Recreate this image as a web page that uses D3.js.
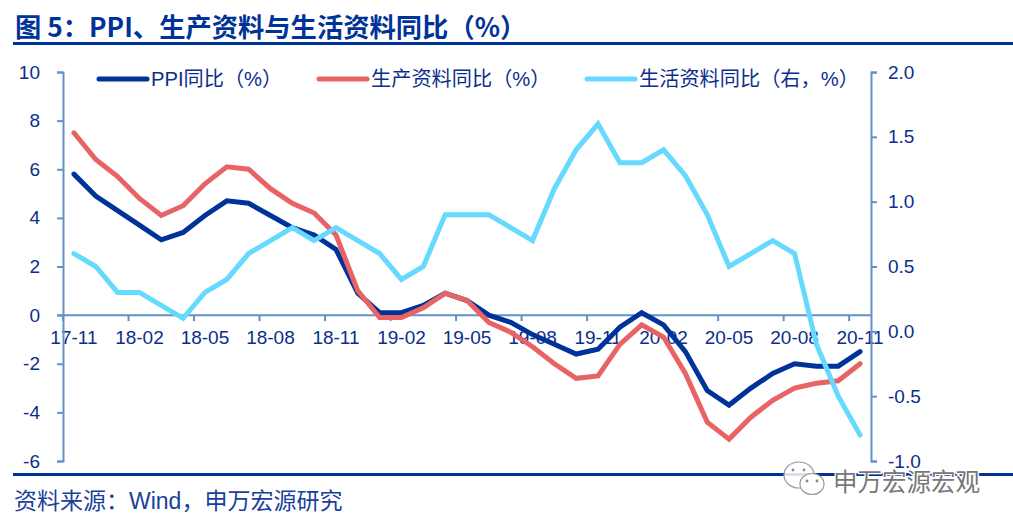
<!DOCTYPE html>
<html>
<head>
<meta charset="utf-8">
<script src="https://cdn.jsdelivr.net/npm/d3@7"></script>
<style>
	html, body { margin: 0; padding: 0; background: #fff; }
	svg { display: block; }
	text { font-family: "Liberation Sans", "Noto Sans CJK SC", sans-serif; }
</style>
</head>
<body>
<div id="chart"></div>
<script>
var months = [ "17-11", "17-12", "18-01", "18-02", "18-03", "18-04", "18-05", "18-06", "18-07", "18-08",
		"18-09", "18-10", "18-11", "18-12", "19-01", "19-02", "19-03", "19-04", "19-05", "19-06", "19-07",
		"19-08", "19-09", "19-10", "19-11", "19-12", "20-01", "20-02", "20-03", "20-04", "20-05", "20-06",
		"20-07", "20-08", "20-09", "20-10", "20-11" ];
var ppi = [ 5.8, 4.9, 4.3, 3.7, 3.1, 3.4, 4.1, 4.7, 4.6, 4.1, 3.6, 3.3, 2.7, 0.9, 0.1, 0.1, 0.4, 0.9, 0.6,
		0.0, -0.3, -0.8, -1.2, -1.6, -1.4, -0.5, 0.1, -0.4, -1.5, -3.1, -3.7, -3.0, -2.4, -2.0, -2.1, -2.1, -1.5 ];
var production = [ 7.5, 6.4, 5.7, 4.8, 4.1, 4.5, 5.4, 6.1, 6.0, 5.2, 4.6, 4.2, 3.3, 1.0, -0.1, -0.1, 0.3, 0.9,
		0.6, -0.3, -0.7, -1.3, -2.0, -2.6, -2.5, -1.2, -0.4, -0.9, -2.4, -4.4, -5.1, -4.2, -3.5, -3.0, -2.8, -2.7, -2.0 ];
var living = [ 0.6, 0.5, 0.3, 0.3, 0.2, 0.1, 0.3, 0.4, 0.6, 0.7, 0.8, 0.7, 0.8, 0.7, 0.6, 0.4, 0.5, 0.9, 0.9,
		0.9, 0.8, 0.7, 1.1, 1.4, 1.6, 1.3, 1.3, 1.4, 1.2, 0.9, 0.5, 0.6, 0.7, 0.6, -0.1, -0.5, -0.8 ];
var xTickLabels = months.filter(function(d, i) { return i % 3 == 0; });
var leftTicks = [ -6, -4, -2, 0, 2, 4, 6, 8, 10 ];
var rightTicks = [ -1, -0.5, 0, 0.5, 1, 1.5, 2 ];
var seriesNames = [ "PPI同比（%）", "生产资料同比（%）", "生活资料同比（右，%）" ];

var navy = "#003399", red = "#e86464", sky = "#66d9ff", axisColor = "#6490c8", textColor = "#0b2e8c";

var svg = d3.select("#chart").append("svg").attr("width", 1013).attr("height", 525);

var x = d3.scaleBand().domain(months).range([ 63, 871 ]);
var yLeft = d3.scaleLinear().domain([ -6, 10 ]).range([ 461, 72 ]);
var yRight = d3.scaleLinear().domain([ -1, 2 ]).range([ 461, 72 ]);

// title, rules, source
svg.append("text").attr("x", 15).attr("y", 37).attr("font-size", 26.3).attr("font-weight", 700)//
.attr("fill", navy).style("font-family", '"Noto Sans CJK SC", sans-serif')//
.text("图 5：PPI、生产资料与生活资料同比（%）");
svg.append("rect").attr("x", 13).attr("y", 42).attr("width", 1000).attr("height", 3).attr("fill", navy);
svg.append("rect").attr("x", 13).attr("y", 473).attr("width", 1000).attr("height", 3).attr("fill", navy);
svg.append("text").attr("x", 14).attr("y", 509).attr("font-size", 23).attr("fill", "#1a3f9c")//
.text("资料来源：Wind，申万宏源研究");

var styleAxis = function(g) {
	g.selectAll(".domain, .tick line").attr("stroke", axisColor).attr("stroke-width", 2);
	g.selectAll("text").attr("fill", textColor).attr("font-size", 19)//
	.style("font-family", '"Liberation Sans", sans-serif');
};

// category axis crosses at zero on the left scale
var xAxis = svg.append("g").attr("transform", "translate(0," + yLeft(0) + ")")//
.call(d3.axisBottom(x).tickValues(xTickLabels).tickSize(0).tickPadding(15))//
.call(styleAxis);
xAxis.select(".domain").attr("d", "M" + (x.range()[0] - 6) + ",0H" + x.range()[1]);
xAxis.selectAll(".edgeTick").data(xTickLabels).enter().append("line").attr("class", "edgeTick")//
.attr("x1", function(d) { return x(d); })//
.attr("x2", function(d) { return x(d); })//
.attr("y2", 6).attr("stroke", axisColor).attr("stroke-width", 2);

// plain hyphen on negative labels, as in the source
svg.append("g").attr("transform", "translate(" + x.range()[0] + ",0)")//
.call(d3.axisLeft(yLeft).tickValues(leftTicks).tickSize(6).tickPadding(17).tickFormat(function(d) {
	return String(d);
}))//
.call(styleAxis);

svg.append("g").attr("transform", "translate(" + x.range()[1] + ",0)")//
.call(d3.axisRight(yRight).tickValues(rightTicks).tickSize(6).tickPadding(11).tickFormat(function(d) {
	return d.toFixed(1);
}))//
.call(styleAxis);

var lineFor = function(y) {
	return d3.line().x(function(d, i) { return x(months[i]) + x.bandwidth() / 2; })//
	.y(function(d) { return y(d); });
};

var series = [ { values: ppi, y: yLeft, color: navy }, { values: production, y: yLeft, color: red },
		{ values: living, y: yRight, color: sky } ];

svg.selectAll(".series").data(series).enter().append("path").attr("class", "series")//
.attr("d", function(d) { return lineFor(d.y)(d.values); })//
.attr("fill", "none").attr("stroke", function(d) { return d.color; })//
.attr("stroke-width", 5).attr("stroke-linejoin", "miter").attr("stroke-linecap", "round");

// legend
var legendX = [ 99, 319, 587 ];
var legend = svg.selectAll(".legend").data(series).enter().append("g").attr("class", "legend")//
.attr("transform", function(d, i) { return "translate(" + legendX[i] + ",79)"; });
legend.append("line").attr("x2", 48).attr("stroke", function(d) { return d.color; })//
.attr("stroke-width", 5).attr("stroke-linecap", "round");
legend.append("text").attr("x", 52).attr("y", 7).attr("font-size", 20.2).attr("fill", textColor)//
.text(function(d, i) { return seriesNames[i]; });

// watermark
var mark = svg.append("g").attr("fill", "#fff").attr("stroke", "#999").attr("stroke-width", 1.2);
mark.append("ellipse").attr("cx", 799).attr("cy", 475).attr("rx", 15).attr("ry", 13).attr("fill-opacity", 0.85);
mark.append("ellipse").attr("cx", 812).attr("cy", 484).attr("rx", 12).attr("ry", 10.5);
mark.selectAll("circle").data([ [ 793, 470 ], [ 804, 470 ], [ 807, 481 ], [ 817, 481 ] ]).enter().append("circle")//
.attr("cx", function(d) { return d[0]; }).attr("cy", function(d) { return d[1]; })//
.attr("r", 1.4).attr("fill", "#888").attr("stroke", "none");
svg.append("text").attr("x", 833).attr("y", 491).attr("font-size", 24.5).attr("fill", "#777")//
.attr("stroke", "#fff").attr("stroke-width", 2.5).attr("paint-order", "stroke")//
.text("申万宏源宏观");
</script>
</body>
</html>
